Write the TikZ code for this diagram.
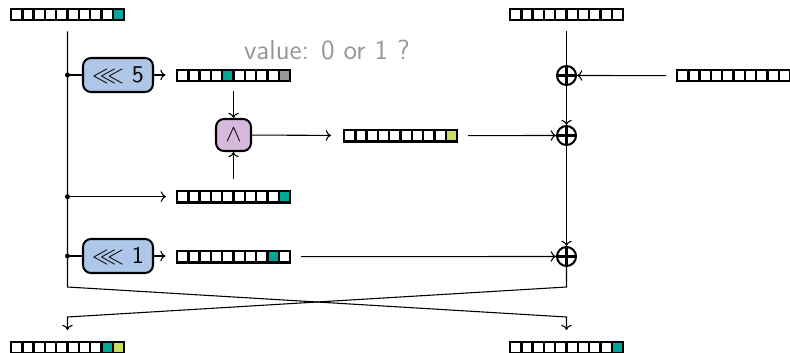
\documentclass[tikz,border=0pt]{standalone}
\usepackage{amssymb}
\usetikzlibrary{calc,arrows.meta}
\definecolor{cteal}{RGB}{0,166,152}
\definecolor{clime}{RGB}{200,220,100}
\definecolor{cgrey}{RGB}{150,150,150}
\definecolor{cblue}{RGB}{174,198,232}
\definecolor{clav}{RGB}{214,186,220}
\def\cw{11.3}
\newlength\unitpx
\setlength\unitpx{0.4167pt}
\tikzset{
  regbox/.style={draw, line width=1pt, minimum width=113\unitpx, minimum height=11.3\unitpx,
                 inner sep=0pt, outer sep=0pt},
  regline/.style={line width=1pt},
  shiftbox/.style={draw, line width=0.85pt, rounded corners=8\unitpx, fill=cblue,
                   minimum width=70\unitpx, minimum height=34\unitpx, inner sep=0pt, font=\sffamily},
  andbox/.style={draw, line width=0.85pt, rounded corners=8\unitpx, fill=clav,
                 minimum width=35\unitpx, minimum height=32\unitpx, inner sep=0pt},
  xorop/.style={draw, circle, line width=0.85pt, minimum size=19\unitpx, inner sep=0pt,
                path picture={\draw[line width=0.85pt]
                  (path picture bounding box.north) -- (path picture bounding box.south)
                  (path picture bounding box.west) -- (path picture bounding box.east);}},
  wire/.style={line width=0.45pt},
  arr/.style={wire, -{To[length=2.2pt, width=4.4pt]}},
  junction/.style={circle, fill, inner sep=0pt, minimum size=5\unitpx},
}
% a ten-cell register: name, left x, top y, list of cell/colour
\newcommand\register[4]{%
  \foreach \i/\c in {#4} {\fill[\c] ({#2+(\i-1)*\cw},#3) rectangle ({#2+\i*\cw},{#3+\cw});}
  \node[regbox, anchor=north west] (#1) at (#2,#3) {};
  \foreach \k in {1,...,9} {\draw[regline] ({#2+\k*\cw},#3) -- ({#2+\k*\cw},{#3+\cw});}
}
\begin{document}
\begin{tikzpicture}[x=\unitpx, y=-\unitpx]
\useasboundingbox (0,0) rectangle (790,352);

% registers
\register{tl}{11}{9}{10/cteal}
\register{tr}{510}{9}{1/white}
\register{sfive}{177}{70}{5/cteal,10/cgrey}
\register{andreg}{344}{130}{10/clime}
\register{mid}{177}{191}{10/cteal}
\register{sone}{177}{251}{9/cteal}
\register{rreg}{677}{70}{1/white}
\register{bl}{11}{342}{9/cteal,10/clime}
\register{br}{510}{342}{10/cteal}

% operators
\node[shiftbox] (shfive) at (118,75) {$\lll$ 5};
\node[shiftbox] (shone) at (118,256) {$\lll$ 1};
\node[andbox] (andop) at (233.5,135) {$\wedge$};
\node[xorop] (xa) at (566.5,75.5) {};
\node[xorop] (xb) at (566.5,135.5) {};
\node[xorop] (xc) at (566.5,256.5) {};

\node[text=cgrey, font=\sffamily\fontsize{11.5}{14}\selectfont] (note) at (327,50) {value: 0 or 1 ?};

% junctions on the left column
\node[junction] (jfive) at (tl.south |- shfive) {};
\node[junction] (jmid) at (tl.south |- mid) {};
\node[junction] (jone) at (tl.south |- shone) {};

% crossing points
\coordinate (lbend) at (tl.south |- 0,287);
\coordinate (rbend) at (tr.south |- 0,287);
\coordinate (lturn) at (tl.south |- 0,317);
\coordinate (rturn) at (tr.south |- 0,317);

% left column, crossing over to the right output
\draw[arr, shorten <=11\unitpx, shorten >=12\unitpx] (tl.south) -- (lbend) -- (rturn) -- (br.north);
% right column through the xor chain, crossing to the left output
\draw[wire, shorten <=11\unitpx] (tr.south) -- (xa);
\draw[arr] (xa) -- (xb);
\draw[arr] (xb) -- (xc);
\draw[arr, shorten >=12\unitpx] (xc) -- (rbend) -- (lturn) -- (bl.north);

% branches
\draw[wire] (jfive) -- (shfive);
\draw[arr] (shfive) -- (shfive.east -| 165.5,0);
\draw[arr] (jmid) -- (jmid -| 166,0);
\draw[wire] (jone) -- (shone);
\draw[arr] (shone) -- (shone.east -| 165.5,0);

\draw[arr, shorten <=10\unitpx] (sfive) -- (andop);
\draw[arr, shorten <=12\unitpx] (mid) -- (andop);
\draw[arr, shorten >=13\unitpx] (andop) -- (andreg);
\draw[arr, shorten <=11\unitpx] (andreg) -- (xb);
\draw[arr, shorten <=11\unitpx] (sone) -- (xc);
\draw[arr, shorten <=11\unitpx] (rreg) -- (xa);
\end{tikzpicture}
\end{document}
